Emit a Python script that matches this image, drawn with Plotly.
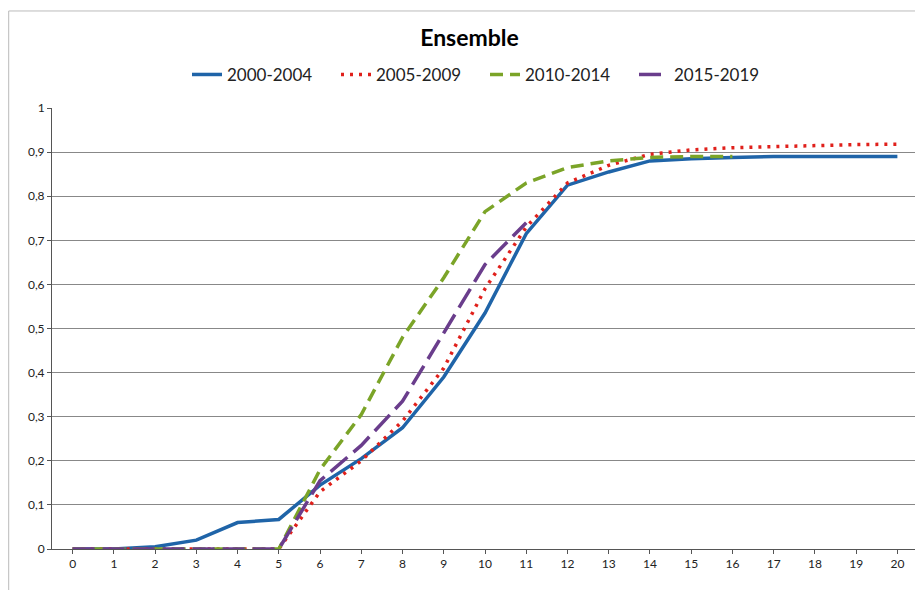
import plotly.graph_objects as go

years = list(range(0, 21))
labels = [str(v) for v in years]

s2000 = [0, 0, 0.005, 0.02, 0.06, 0.067, 0.145, 0.205, 0.275, 0.39, 0.535, 0.715, 0.825, 0.855, 0.88, 0.885, 0.888, 0.89, 0.89, 0.89, 0.89]
s2005 = [0, 0, 0, 0, 0, 0, 0.13, 0.2, 0.29, 0.41, 0.59, 0.73, 0.83, 0.87, 0.895, 0.905, 0.91, 0.913, 0.915, 0.917, 0.918]
s2010 = [0, 0, 0, 0, 0, 0, 0.18, 0.305, 0.48, 0.615, 0.765, 0.83, 0.865, 0.88, 0.888, 0.89, 0.89]
s2015 = [0, 0, 0, 0, 0, 0, 0.155, 0.235, 0.335, 0.49, 0.645, 0.74]

series = [
    ("2000-2004", s2000, dict(color="#1f64a8", width=3.5, dash="solid")),
    ("2005-2009", s2005, dict(color="#e0201b", width=3.5, dash="3px,6px")),
    ("2010-2014", s2010, dict(color="#7ba428", width=3.5, dash="13px,7px")),
    ("2015-2019", s2015, dict(color="#6a3d8c", width=3.5, dash="22px,8px")),
]

fig = go.Figure()
for name, vals, line in series:
    fig.add_trace(go.Scatter(x=labels[:len(vals)], y=vals, mode="lines", name=name, line=line))

fig.update_layout(
    width=923, height=590,
    paper_bgcolor="white", plot_bgcolor="white",
    margin=dict(l=44, r=13, t=100, b=49),
    title=dict(text="<b>Ensemble</b>", x=0.5, xanchor="center", y=0.949, yanchor="middle",
               yref="container", font=dict(family="Lato", size=23, color="black")),
    legend=dict(orientation="h", x=0.5, xanchor="center", y=1.075, yanchor="middle",
                font=dict(family="Lato", size=17, color="#222"),
                entrywidth=104, entrywidthmode="pixels",
                bgcolor="rgba(0,0,0,0)"),
    font=dict(family="Lato"),
)
fig.update_xaxes(type="category", categoryorder="array", categoryarray=labels,
                 range=[-0.5, 20.5],
                 showgrid=False, showline=True, linecolor="#555", linewidth=1,
                 ticks="outside", ticklen=4, tickcolor="#555",
                 tickfont=dict(size=12, color="#222", family="Lato"))
fig.update_yaxes(range=[0, 1], tickvals=[0, 0.1, 0.2, 0.3, 0.4, 0.5, 0.6, 0.7, 0.8, 0.9, 1],
                 ticktext=["0", "0,1", "0,2", "0,3", "0,4", "0,5", "0,6", "0,7", "0,8", "0,9", "1"],
                 showgrid=True, gridcolor="#888", gridwidth=1, zeroline=False,
                 showline=True, linecolor="#555", linewidth=1,
                 ticks="outside", ticklen=4, tickcolor="#555",
                 tickfont=dict(size=12, color="#222", family="Lato"))
fig.add_shape(type="rect", xref="paper", yref="paper", x0=-0.05, x1=1.01, y0=-0.12, y1=1.22,
              line=dict(color="#bbb", width=1), layer="below")
fig.write_html("out.html")
